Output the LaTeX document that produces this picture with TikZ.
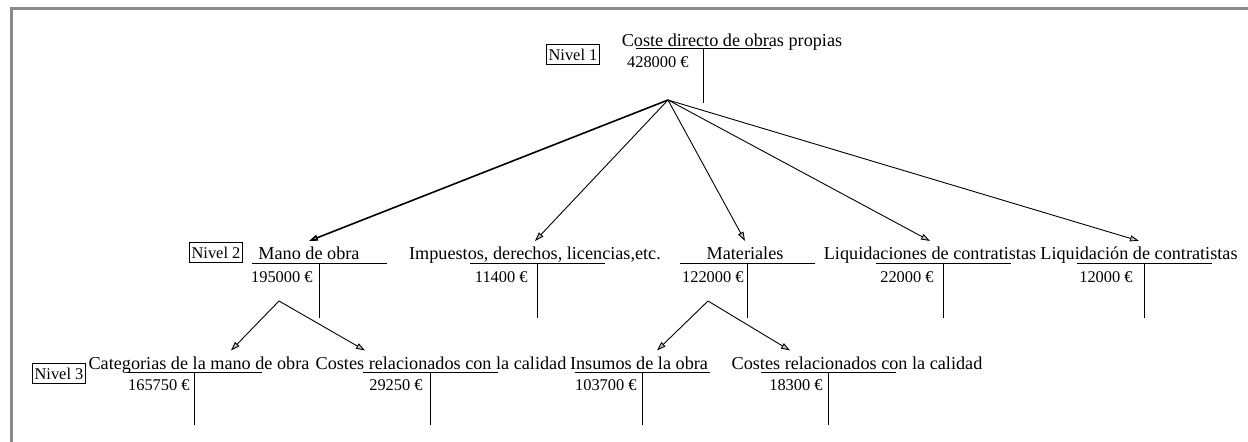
\documentclass[tikz,border=0pt]{standalone}
\usepackage{fontspec}
\setmainfont{Liberation Serif}
\usepackage{xcolor}
\usepackage{tikz}
\usetikzlibrary{arrows.meta}
\usetikzlibrary{calc}
\definecolor{marco}{RGB}{138,138,138}
\newcommand{\titulofont}{\fontsize{9.1}{11}\selectfont}
\newcommand{\cifrafont}{\fontsize{8.2}{10}\selectfont}

\begin{document}
\begin{tikzpicture}[
    x=0.5pt, y=-0.5pt,
    >={Triangle[length=4.5pt,width=3pt,fill=gray!45]},
    titulo/.style={anchor=base, font=\titulofont, inner sep=3pt},
    cifra/.style={anchor=east, font=\cifrafont, inner sep=1.5pt},
    nivel/.style={draw, line width=0.5pt, font=\cifrafont, inner xsep=1pt, inner ysep=2pt},
    cuenta/.style={line width=0.5pt},
    normal line/.style={->, line width=0.45pt}
    ]
\useasboundingbox (0,0) rectangle (1248,442);
\draw[marco, line width=1.5pt] (11,442) -- (11,9) -- (1248,9);

% nivel 1
\node[nivel] (n1) at (573,54.5) {Nivel 1};
\node[titulo] (t1) at (732,47) {Coste directo de obras propias};
\draw[cuenta] (635.5,49) -- (770.5,49) (703,49) -- (703,103);
\node[cifra] (c1) at (692,62) {428000 €};
\coordinate (v1) at (668,100);

% nivel 2
\node[nivel] (n2) at (216,252.5) {Nivel 2};
\node[titulo] (t21) at (309,260) {Mano de obra};
\node[titulo] (t22) at (535,260) {Impuestos, derechos, licencias,etc.};
\node[titulo] (t23) at (745,260) {Materiales};
\node[titulo] (t24) at (930,260) {Liquidaciones de contratistas};
\node[titulo] (t25) at (1139,260) {Liquidación de contratistas};
\draw[cuenta] (251.5,264) -- (386.5,264) (319,264) -- (319,318);
\draw[cuenta] (469.5,264) -- (604.5,264) (537,264) -- (537,318);
\draw[cuenta] (679.5,264) -- (814.5,264) (747,264) -- (747,318);
\draw[cuenta] (875.5,264) -- (1010.5,264) (943,264) -- (943,318);
\draw[cuenta] (1076.5,264) -- (1211.5,264) (1144,264) -- (1144,318);
\node[cifra] (c21) at (316,277) {195000 €};
\node[cifra] (c22) at (531,277) {11400 €};
\node[cifra] (c23) at (747,277) {122000 €};
\node[cifra] (c24) at (937,277) {22000 €};
\node[cifra] (c25) at (1136,277) {12000 €};
\coordinate (v21) at (279,301);
\coordinate (v23) at (708,301);

% nivel 3
\node[nivel] (n3) at (59,373.5) {Nivel 3};
\node[titulo] (t31) at (199,369.5) {Categorias de la mano de obra};
\node[titulo] (t32) at (441,369.5) {Costes relacionados con la calidad};
\node[titulo] (t33) at (639,369.5) {Insumos de la obra};
\node[titulo] (t34) at (857,369.5) {Costes relacionados con la calidad};
\draw[cuenta] (126.5,373) -- (261.5,373) (194,373) -- (194,425);
\draw[cuenta] (362.5,373) -- (497.5,373) (430,373) -- (430,425);
\draw[cuenta] (574.5,373) -- (709.5,373) (642,373) -- (642,425);
\draw[cuenta] (760.5,373) -- (895.5,373) (828,373) -- (828,425);
\node[cifra] (c31) at (193,385) {165750 €};
\node[cifra] (c32) at (426,385) {29250 €};
\node[cifra] (c33) at (640,385) {103700 €};
\node[cifra] (c34) at (826,385) {18300 €};

\path (v1) edge[normal line, line width=0.8pt] (t21.north);
\path (v1) edge[normal line] (t22.north);
\path (v1) edge[normal line] (t23.north);
\path (v1) edge[normal line] (t24.north);
\path (v1) edge[normal line] (t25.north);
\path (v21) edge[normal line] ($(t31.north)+(32,0)$);
\path (v21) edge[normal line] ($(t32.north)+(-76,0)$);
\path (v23) edge[normal line] ($(t33.north)+(18,0)$);
\path (v23) edge[normal line] ($(t34.north)+(-67,0)$);
\end{tikzpicture}
\end{document}
